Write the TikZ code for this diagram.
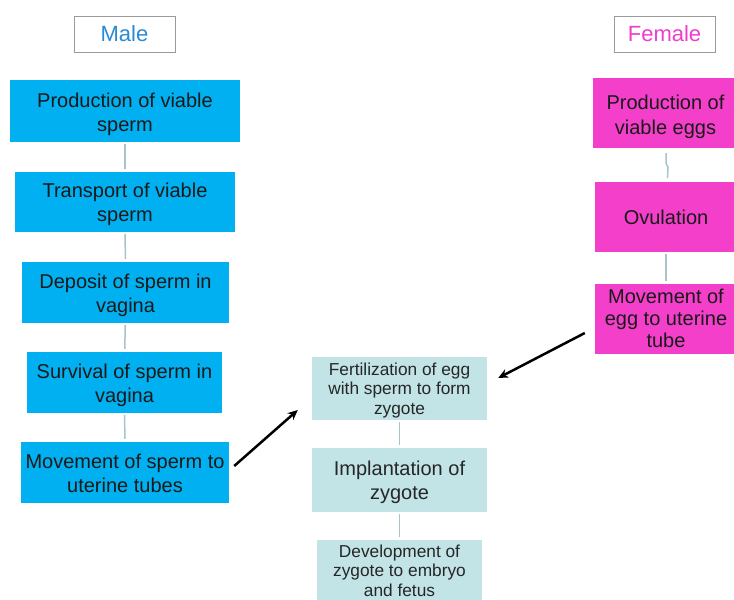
\documentclass[tikz,border=0pt]{standalone}
\usepackage{fontspec}
\setmainfont{Liberation Sans}
\usetikzlibrary{arrows.meta,calc}
\definecolor{malec}{HTML}{00B0F0}
\definecolor{femc}{HTML}{F43FCB}
\definecolor{midc}{HTML}{C2E4E6}
\definecolor{linkc}{HTML}{A8C4C8}
\definecolor{malet}{HTML}{2A8AD4}
\definecolor{femt}{HTML}{F03CCB}
\definecolor{labb}{HTML}{9A9A9A}
% text block lowered by #1 while keeping its natural size
\newcommand\bx[2]{\raisebox{-#1}[\height][\depth]{\begin{tabular}{@{}c@{}}#2\end{tabular}}}
\begin{document}
\begin{tikzpicture}[x=1pt,y=-1pt,
  box/.style={rectangle,inner sep=0pt,text=black!90},
  big/.style={font=\fontsize{20}{24}\selectfont},
  small/.style={font=\fontsize{17.3}{19.6}\selectfont},
  mbox/.style={box,big,fill=malec},
  fbox/.style={box,big,fill=femc},
  cbox/.style={box,fill=midc,text=black!85},
  lab/.style={rectangle,draw=labb,line width=1pt,fill=white,minimum width=101pt,minimum height=36pt,font=\fontsize{22}{26}\selectfont},
  link/.style={draw=linkc,line width=1.5pt,shorten >=3pt,shorten <=2pt},
  arr/.style={draw=black,line width=2.5pt,-{Stealth[length=10pt,width=9pt]}}]
\useasboundingbox[fill=white] (0,0) rectangle (734,600);
% labels
\node[lab,text=malet] (ml) at (124.5,34) {Male};
\node[lab,text=femt] (fl) at (664.5,34) {Female};
% male column
\node[mbox,minimum width=230pt,minimum height=62pt] (m1) at (125,111) {\bx{3.3pt}{Production of viable\\sperm}};
\node[mbox,minimum width=220pt,minimum height=60pt] (m2) at (125,202) {\bx{3pt}{Transport of viable\\sperm}};
\node[mbox,minimum width=207pt,minimum height=61pt] (m3) at (125.5,292.5) {\bx{3pt}{Deposit of sperm in\\vagina}};
\node[mbox,minimum width=195pt,minimum height=61pt] (m4) at (124.5,382.5) {\bx{3pt}{Survival of sperm in\\vagina}};
\node[mbox,minimum width=208pt,minimum height=61pt] (m5) at (125,472.5) {\bx{3pt}{Movement of sperm to\\uterine tubes}};
% female column
\node[fbox,minimum width=145pt,minimum height=70pt,font=\fontsize{20}{25}\selectfont] (f1) at (665.5,113) {\bx{3.5pt}{Production of\\viable eggs}};
\node[fbox,minimum width=142pt,minimum height=70pt] (f2) at (666,217) {\bx{2.3pt}{Ovulation}};
\node[fbox,minimum width=142pt,minimum height=70pt,font=\fontsize{20}{22}\selectfont] (f3) at (666,319) {\bx{2pt}{Movement of\\egg to uterine\\tube}};
% centre column
\node[cbox,small,minimum width=175pt,minimum height=63pt] (c1) at (399.5,388.5) {\bx{2.2pt}{Fertilization of egg\\with sperm to form\\zygote}};
\node[cbox,big,minimum width=175pt,minimum height=64pt] (c2) at (399.5,480) {\bx{3pt}{Implantation of\\zygote}};
\node[cbox,small,minimum width=165pt,minimum height=62pt] (c3) at (399.5,571) {\bx{1.8pt}{Development of\\zygote to embryo\\and fetus}};
% links
\draw[link] (m1) -- (m2);
\draw[link] (m2) -- (m3);
\draw[link] (m3) -- (m4);
\draw[link] (m4) -- (m5);
\draw[draw=linkc,line width=1.5pt] ($(f1.south)+(0.5,5)$) -- ++(0,10) -- ++(2,4) -- ($(f2.north)+(1.5,-4)$);
\draw[link] (f2) -- (f3);
\draw[link] (c1) -- (c2);
\draw[link] (c2) -- (c3);
% arrows
\draw[arr] ($(m5.east)+(5,-6.5)$) -- ($(c1.west)+(-14,21.5)$);
\draw[arr] ($(f3.west)+(-10,14)$) -- ($(c1.east)+(11,-10.5)$);
\end{tikzpicture}
\end{document}
